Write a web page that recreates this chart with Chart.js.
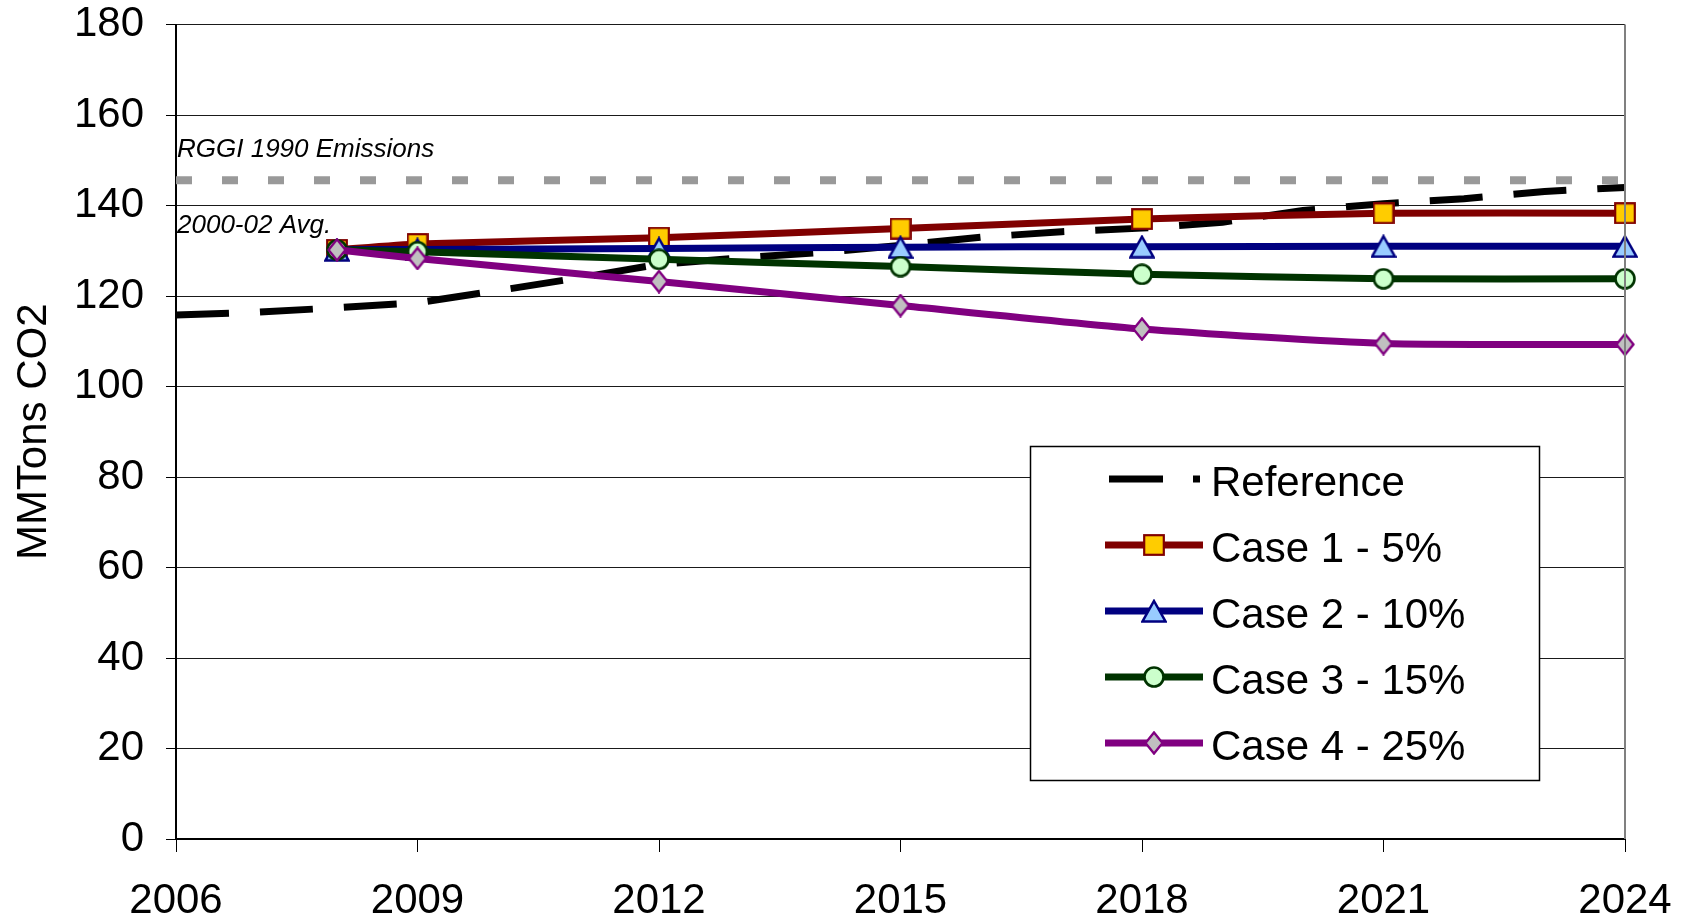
<!DOCTYPE html>
<html>
<head>
<meta charset="utf-8">
<script src="https://cdn.jsdelivr.net/npm/chart.js@4.4.0/dist/chart.umd.min.js"></script>
<style>
  html, body { margin: 0; padding: 0; background: #fff; }
  #wrap { width: 1684px; height: 919px; }
</style>
</head>
<body>
<div id="wrap"><canvas id="co2Chart" width="1684" height="919"></canvas></div>
<script>
// values (MMTons CO2)
const refYears = [2006, 2007, 2008, 2009, 2010, 2011, 2012, 2013, 2014, 2015,
  2016, 2017, 2018, 2019, 2020, 2021, 2022, 2023, 2024];
const refValues = [115.8, 116.4, 117.4, 118.5, 121.2, 124.0, 127.0, 128.4, 129.6, 131.2,
  133.0, 134.2, 135.0, 136.3, 138.9, 140.4, 141.5, 143.1, 144.0];
const caseYears = [2008, 2009, 2012, 2015, 2018, 2021, 2024];
const case1 = [130.2, 131.5, 132.9, 134.9, 137.0, 138.3, 138.3];
const case2 = [130.2, 130.3, 130.5, 130.8, 130.9, 131.0, 131.0];
const case3 = [130.2, 129.8, 128.1, 126.5, 124.8, 123.8, 123.8];
const case4 = [130.2, 128.3, 123.2, 117.9, 112.7, 109.5, 109.3];
const rggiYears = [2006, 2024];
const rggiValues = [145.6, 145.6];
const xTicks = [2006, 2009, 2012, 2015, 2018, 2021, 2024];
const yTicks = [0, 20, 40, 60, 80, 100, 120, 140, 160, 180];
const seriesNames = ["Reference", "Case 1 - 5%", "Case 2 - 10%", "Case 3 - 15%", "Case 4 - 25%"];

const FONT = "'Liberation Sans', Arial, sans-serif";

function makeMarker(w, h, draw) {
  const c = document.createElement("canvas");
  c.width = w;
  c.height = h;
  draw(c.getContext("2d"));
  return c;
}

const squareMark = makeMarker(22, 22, (g) => {
  g.fillStyle = "#FFCC00";
  g.strokeStyle = "#800000";
  g.lineWidth = 2.2;
  g.fillRect(1.2, 1.2, 19.6, 19.6);
  g.strokeRect(1.2, 1.2, 19.6, 19.6);
});
const triangleMark = makeMarker(26, 24, (g) => {
  g.fillStyle = "#99CCFF";
  g.strokeStyle = "#000080";
  g.lineWidth = 2.5;
  g.beginPath();
  g.moveTo(13, 2);
  g.lineTo(24.5, 22.5);
  g.lineTo(1.5, 22.5);
  g.closePath();
  g.fill();
  g.stroke();
});
const circleMark = makeMarker(22, 22, (g) => {
  g.fillStyle = "#CCFFCC";
  g.strokeStyle = "#003300";
  g.lineWidth = 2.6;
  g.beginPath();
  g.arc(11, 11, 9.5, 0, Math.PI * 2);
  g.fill();
  g.stroke();
});
const diamondMark = makeMarker(20, 24, (g) => {
  g.fillStyle = "#C0C0C0";
  g.strokeStyle = "#800080";
  g.lineWidth = 2.4;
  g.beginPath();
  g.moveTo(10, 1.5);
  g.lineTo(18.5, 12);
  g.lineTo(10, 22.5);
  g.lineTo(1.5, 12);
  g.closePath();
  g.fill();
  g.stroke();
});

function pts(xs, ys) {
  return xs.map((x, i) => ({ x: x, y: ys[i] }));
}

function caseSet(label, values, color, marker, order) {
  return {
    label: label,
    data: pts(caseYears, values),
    borderColor: color,
    borderWidth: 7,
    pointStyle: marker,
    pointRadius: 11,
    tension: 0.2,
    clip: false,
    order: order,
  };
}

const datasets = [
  caseSet(seriesNames[1], case1, "#800000", squareMark, 4),
  caseSet(seriesNames[2], case2, "#000080", triangleMark, 3),
  caseSet(seriesNames[3], case3, "#003300", circleMark, 2),
  caseSet(seriesNames[4], case4, "#800080", diamondMark, 1),
  {
    label: seriesNames[0],
    data: pts(refYears, refValues),
    borderColor: "#000",
    borderWidth: 7,
    borderDash: [53, 31],
    borderCapStyle: "butt",
    pointRadius: 0,
    tension: 0,
    clip: false,
    order: 10,
  },
  {
    label: "RGGI 1990",
    data: pts(rggiYears, rggiValues),
    borderColor: "#999999",
    borderWidth: 8,
    borderDash: [16, 30],
    borderCapStyle: "butt",
    pointRadius: 0,
    clip: false,
    order: 11,
  },
];

const extrasPlugin = {
  id: "extras",
  afterDatasetsDraw(chart) {
    const { ctx, chartArea, scales } = chart;
    ctx.save();
    // plot area right border
    ctx.strokeStyle = "#808080";
    ctx.lineWidth = 2;
    ctx.beginPath();
    ctx.moveTo(chartArea.right, chartArea.top);
    ctx.lineTo(chartArea.right, chartArea.bottom);
    ctx.stroke();

    const yLine = scales.y.getPixelForValue(rggiValues[0]);
    ctx.fillStyle = "#000";
    ctx.font = "italic 26px " + FONT;
    ctx.textAlign = "left";
    ctx.textBaseline = "alphabetic";
    ctx.fillText("RGGI 1990 Emissions", chartArea.left + 1, yLine - 23);
    ctx.fillText("2000-02 Avg.", chartArea.left + 1, yLine + 53);
    ctx.restore();
  },
  afterDraw(chart) {
    const ctx = chart.ctx;
    const box = { x: 1030.5, y: 446.5, w: 509, h: 334 };
    ctx.save();
    ctx.fillStyle = "#fff";
    ctx.fillRect(box.x, box.y, box.w, box.h);
    ctx.strokeStyle = "#000";
    ctx.lineWidth = 1.5;
    ctx.strokeRect(box.x, box.y, box.w, box.h);

    const order = [4, 0, 1, 2, 3];
    order.forEach((di, row) => {
      const ds = chart.data.datasets[di];
      const y = 479 + row * 66;
      ctx.strokeStyle = ds.borderColor;
      ctx.lineWidth = ds.borderWidth;
      ctx.lineCap = "butt";
      ctx.beginPath();
      if (ds.borderDash) {
        ctx.setLineDash([54, 30]);
        ctx.moveTo(1109, y);
        ctx.lineTo(1200, y);
      } else {
        ctx.setLineDash([]);
        ctx.moveTo(1105, y);
        ctx.lineTo(1203, y);
      }
      ctx.stroke();
      ctx.setLineDash([]);
      if (ds.pointStyle) {
        Chart.helpers.drawPoint(ctx, { pointStyle: ds.pointStyle, radius: 10, borderWidth: 0, rotation: 0 }, 1154, y);
      }
      ctx.fillStyle = "#000";
      ctx.font = "42px " + FONT;
      ctx.textAlign = "left";
      ctx.textBaseline = "alphabetic";
      ctx.fillText(ds.label, 1211, y + 17);
    });
    ctx.restore();
  },
};

const tickFont = { family: FONT, size: 42 };

new Chart(document.getElementById("co2Chart").getContext("2d"), {
  type: "line",
  data: { datasets: datasets },
  options: {
    responsive: false,
    animation: false,
    events: [],
    layout: { padding: { top: 24.5, right: 59, left: 0, bottom: 0 } },
    plugins: {
      legend: { display: false },
      tooltip: { enabled: false },
    },
    scales: {
      x: {
        type: "linear",
        min: xTicks[0],
        max: xTicks[xTicks.length - 1],
        afterBuildTicks: (s) => {
          s.ticks = xTicks.map((v) => ({ value: v }));
        },
        afterFit: (s) => {
          s.height = 80;
          s.paddingLeft = 0;
          s.paddingRight = 0;
        },
        ticks: {
          font: tickFont,
          color: "#000",
          padding: 24,
          maxRotation: 0,
          autoSkip: false,
          callback: (v) => String(v),
        },
        grid: {
          drawOnChartArea: false,
          tickLength: 13,
          tickColor: "#000",
          lineWidth: 1,
        },
        border: { color: "#000", width: 2 },
      },
      y: {
        min: yTicks[0],
        max: yTicks[yTicks.length - 1],
        afterBuildTicks: (s) => {
          s.ticks = yTicks.map((v) => ({ value: v }));
        },
        afterFit: (s) => {
          s.width = 176;
          s.paddingTop = 0;
          s.paddingBottom = 0;
        },
        ticks: {
          font: tickFont,
          color: "#000",
          padding: 22,
          autoSkip: false,
        },
        grid: {
          color: "#1a1a1a",
          lineWidth: 1,
          tickLength: 10,
          tickColor: "#000",
        },
        border: { color: "#000", width: 2 },
        title: {
          display: true,
          text: "MMTons CO2",
          font: { family: FONT, size: 42 },
          color: "#000",
          padding: { top: 9, bottom: 0 },
        },
      },
    },
  },
  plugins: [extrasPlugin],
});
</script>
</body>
</html>
